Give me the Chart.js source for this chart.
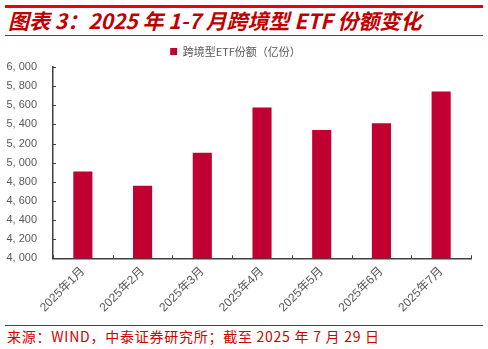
<!DOCTYPE html>
<html>
<head>
<meta charset="utf-8">
<script src="https://cdn.jsdelivr.net/npm/chart.js@4"></script>
<style>
  html, body { margin:0; padding:0; background:#fff; width:488px; height:349px; overflow:hidden; }
  #topline { position:absolute; left:5px; top:5px; width:478px; height:3px; background:#E60012; }
  #title { position:absolute; left:8px; top:7px; font-family:"Noto Sans CJK SC","Liberation Sans",sans-serif; font-weight:bold; font-style:italic; font-size:21px; color:#C00000; white-space:nowrap; line-height:27px; }
  #titleline { position:absolute; left:5px; top:35px; width:478px; height:1px; background:#E60012; }
  #wrap { position:absolute; left:0; top:36px; width:488px; height:285px; }
  #srcline { position:absolute; left:5px; top:325px; width:478px; height:1px; background:#E60012; }
  #source { position:absolute; left:7px; top:327px; font-family:"Noto Sans CJK SC",sans-serif; font-size:14px; letter-spacing:0.75px; color:#D00000; white-space:nowrap; line-height:18px; }
</style>
</head>
<body>
<div id="topline"></div>
<div id="title">图表 3：2025 年 1-7 月跨境型 ETF 份额变化</div>
<div id="titleline"></div>
<div id="wrap"><canvas id="c"></canvas></div>
<div id="srcline"></div>
<div id="source">来源：WIND，中泰证券研究所；截至 2025 年 7 月 29 日</div>
<script>
const categories = ["2025年1月","2025年2月","2025年3月","2025年4月","2025年5月","2025年6月","2025年7月"];
const seriesName = "跨境型ETF份额（亿份）";
const shares = [4908, 4757, 5104, 5577, 5340, 5413, 5743];
const yMin = 4000, yMax = 6000, yStep = 200;

const fmt = v => { const s = String(v); return s.length > 3 ? s.slice(0, s.length-3) + ", " + s.slice(-3) : s; };

const innerTicks = {
  id: 'innerTicks',
  afterDraw(chart) {
    const ctx = chart.ctx, x = chart.scales.x, y = chart.scales.y;
    ctx.save();
    ctx.strokeStyle = '#404040';
    ctx.lineWidth = 1;
    y.ticks.forEach(t => {
      const py = Math.round(y.getPixelForValue(t.value)) + 0.5;
      ctx.beginPath(); ctx.moveTo(y.right, py); ctx.lineTo(y.right + 3, py); ctx.stroke();
    });
    const n = categories.length;
    for (let i = 0; i <= n; i++) {
      const px = Math.round(x.left + i * (x.right - x.left) / n) + 0.5;
      ctx.beginPath(); ctx.moveTo(px, x.top); ctx.lineTo(px, x.top - 3); ctx.stroke();
    }
    ctx.restore();
  }
};

new Chart(document.getElementById('c'), {
  type: 'bar',
  data: {
    labels: categories,
    datasets: [{
      label: seriesName,
      data: shares,
      backgroundColor: '#C00030',
      borderWidth: 0,
      categoryPercentage: 1,
      barPercentage: 0.32
    }]
  },
  options: {
    responsive: true,
    maintainAspectRatio: false,
    animation: false,
    devicePixelRatio: 1,
    layout: { padding: { left: 0, right: 17, top: 4, bottom: 0 } },
    plugins: {
      legend: {
        display: true,
        position: 'top',
        labels: {
          boxWidth: 7, boxHeight: 7, padding: 6,
          color: '#595959',
          font: { family: '"Noto Sans CJK SC", sans-serif', size: 11 }
        }
      },
      tooltip: { enabled: false }
    },
    scales: {
      x: {
        offset: true,
        grid: { display: false, drawTicks: false },
        border: { display: true, color: '#404040', width: 1.5 },
        ticks: {
          color: '#595959',
          font: { family: '"Liberation Sans","Noto Sans CJK SC", sans-serif', size: 12 },
          minRotation: 45, maxRotation: 45, padding: 6, autoSkip: false
        }
      },
      y: {
        min: yMin, max: yMax,
        afterFit(s) { s.width = 53; },
        grid: { display: false, drawTicks: false },
        border: { display: true, color: '#404040', width: 1.5 },
        ticks: {
          stepSize: yStep,
          padding: 16,
          color: '#595959',
          font: { family: '"Liberation Sans", sans-serif', size: 11 },
          callback: v => fmt(v)
        }
      }
    }
  },
  plugins: [innerTicks]
});
</script>
</body>
</html>
